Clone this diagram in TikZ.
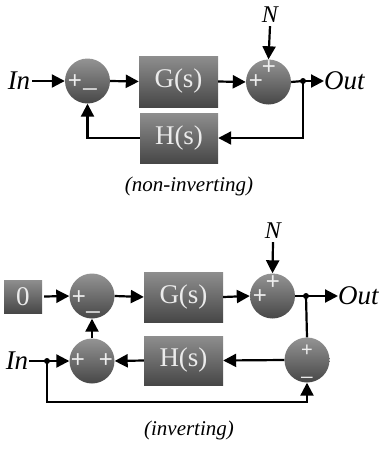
\documentclass[tikz,border=0pt]{standalone}
\usepackage{fontspec}
\setmainfont{Liberation Serif}
\newfontfamily\signfont{Liberation Sans}
\usetikzlibrary{arrows.meta}
\definecolor{topg}{HTML}{8E8E8E}
\definecolor{botg}{HTML}{474747}
\definecolor{signc}{HTML}{EEEEEE}
\begin{document}
\begin{tikzpicture}[x=1pt,y=-1pt,
  blk/.style={rectangle,top color=topg,bottom color=botg,draw=none,inner sep=0pt,
    text=white!92!black,font=\fontsize{27}{27}\selectfont},
  sumc/.style={circle,top color=topg!95!white,bottom color=botg,draw=none,minimum size=45pt,inner sep=0pt},
  sgn/.style={text=signc,font=\signfont\fontsize{24}{24}\selectfont,inner sep=0pt},
  msgn/.style={sgn,text height=1pt,text depth=5pt},
  ssgn/.style={text=signc,font=\signfont\fontsize{20}{20}\selectfont,inner sep=0pt},
  lbl/.style={font=\itshape\fontsize{27}{27}\selectfont,inner sep=0pt},
  captxt/.style={font=\itshape\fontsize{21}{21}\selectfont,inner sep=0pt},
  wire/.style={line width=2.2pt},
  arr/.style={wire,-{Triangle[length=13pt,width=13pt]}},
  jdot/.style={circle,fill=black,inner sep=0pt,minimum size=6pt}
]
\useasboundingbox (0,0) rectangle (382,451);

% ---------- non-inverting ----------
\node[lbl] (in1) at (19,81) {In};
\node[sumc] (s1) at (87.5,81) {};
\node[sgn] (s1p) at (75,82) {+};
\node[msgn] (s1m) at (90,87.5) {\_};
\node[blk,minimum width=79pt,minimum height=51pt] (g1) at (178.5,81.5) {G(s)};
\node[sumc] (s2) at (268.5,82) {};
\node[sgn] (s2p) at (256,82) {+};
\node[sgn] (s2q) at (269,68) {+};
\node[lbl,font=\itshape\fontsize{24}{24}\selectfont] (n1) at (270,15) {N};
\node[jdot] (d1) at (303,81) {};
\node[lbl,anchor=west] (out1) at (324,81) {Out};
\node[blk,minimum width=78pt,minimum height=50pt] (h1) at (179,138) {H(s)};

\draw[arr] (in1.east) ++(2,0) -- (s1.west);
\draw[arr] (s1.east) -- (g1.west);
\draw[arr] (g1.east) -- (s2.west);
\draw[arr] (n1.south) ++(0,3) -- (s2.north);
\draw[wire] (s2.east) -- (d1.center);
\draw[arr] (d1.center) -- (out1.west);
\draw[arr] (d1.center) |- (h1.east);
\draw[arr] (h1.west) -| (s1.south);

\node[captxt] (c1) at (189,186) {(non-inverting)};

% ---------- inverting ----------
\node[blk,minimum width=38pt,minimum height=33pt] (z) at (23,296.5) {0};
\node[sumc] (sa) at (92,296) {};
\node[sgn] (sap) at (79,298) {+};
\node[msgn] (sam) at (93,310.5) {\_};
\node[blk,minimum width=79pt,minimum height=50pt] (g2) at (183.5,297) {G(s)};
\node[sumc] (sb) at (272.5,296) {};
\node[sgn] (sbp) at (260,297) {+};
\node[sgn] (sbq) at (273,283) {+};
\node[lbl,font=\itshape\fontsize{24}{24}\selectfont] (n2) at (273,231) {N};
\node[jdot] (d2) at (306,296) {};
\node[lbl,anchor=west] (out2) at (338,296) {Out};
\node[sumc] (sc) at (307,360) {};
\node[ssgn] (scp) at (307,350.5) {+};
\node[ssgn,text height=1pt,text depth=4pt] (scm) at (307,376) {\_};
\node[blk,minimum width=79pt,minimum height=49pt] (h2) at (183.5,360.5) {H(s)};
\node[sumc] (sd) at (92,361) {};
\node[sgn] (sdp) at (78,361) {+};
\node[sgn] (sdq) at (106,361) {+};
\node[lbl] (in2) at (17,361) {In};
\node[jdot] (d3) at (47,361) {};
\coordinate (bl) at (47,402);

\draw[arr] (z.east) ++(2,0) -- (sa.west);
\draw[arr] (sa.east) -- (g2.west);
\draw[arr] (g2.east) -- (sb.west);
\draw[arr] (n2.south) ++(0,3) -- (sb.north);
\draw[wire] (sb.east) -- (d2.center);
\draw[arr] (d2.center) -- (out2.west);
\draw[wire] (d2.center) -- (sc.north);
\draw[arr] (sc.west) -- (h2.east);
\draw[arr] (h2.west) -- (sd.east);
\draw[arr] (sd.north) -- (sa.south);
\draw[wire] (in2.east) ++(1,0) -- (d3.center);
\draw[arr] (d3.center) -- (sd.west);
\draw[arr] (d3.center) -- (bl) -| (sc.south);

\node[captxt] (c2) at (189,430) {(inverting)};
\end{tikzpicture}
\end{document}
